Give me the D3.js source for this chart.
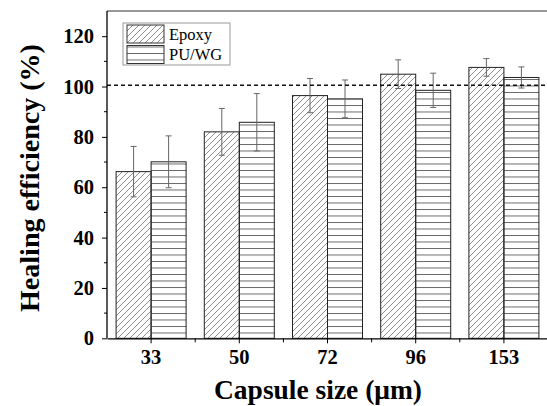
<!DOCTYPE html>
<html>
<head>
<meta charset="utf-8">
<script src="https://cdn.jsdelivr.net/npm/d3@7"></script>
<style>
  body { margin: 0; background: #fff; }
  svg { display: block; }
</style>
</head>
<body>
<svg id="chart"></svg>
<script>
// values
const sizes = ['33', '50', '72', '96', '153'];
const seriesNames = ['Epoxy', 'PU/WG'];
const epoxy = [66.2, 82.0, 96.4, 104.9, 107.6];
const epoxyErr = [10.0, 9.3, 6.8, 5.7, 3.5];
const puwg = [70.1, 85.8, 95.1, 98.5, 103.6];
const puwgErr = [10.3, 11.4, 7.5, 6.8, 4.2];
const yTicks = [0, 20, 40, 60, 80, 100, 120];
const yMinor = [10, 30, 50, 70, 90, 110];
const refLine = 100.5;

const W = 547, H = 406;
const plotLeft = 107, plotTop = 11, plotBottom = 338.3, plotRight = 548;
const serif = '"Liberation Serif", "Times New Roman", serif';

const svg = d3.select('#chart')
              .attr('width', W)
              .attr('height', H);

// hatch patterns
const defs = svg.append('defs');
const diag = defs.append('pattern')
                 .attr('id', 'diag')
                 .attr('patternUnits', 'userSpaceOnUse')
                 .attr('width', 6)
                 .attr('height', 6);
diag.append('path')
    .attr('d', 'M0,6 L6,0 M-1,1 L1,-1 M5,7 L7,5')
    .attr('stroke', '#6a6a6a')
    .attr('stroke-width', 0.75);
const horiz = defs.append('pattern')
                  .attr('id', 'horiz')
                  .attr('patternUnits', 'userSpaceOnUse')
                  .attr('width', 10)
                  .attr('height', 6.5)
                  .attr('y', 1);
horiz.append('line')
     .attr('x1', 0).attr('x2', 10)
     .attr('y1', 0.5).attr('y2', 0.5)
     .attr('stroke', '#555')
     .attr('stroke-width', 0.9);
const fills = { 'Epoxy': 'url(#diag)', 'PU/WG': 'url(#horiz)' };

const x0 = d3.scaleBand()
             .domain(sizes)
             .range([plotLeft, plotRight])
             .padding(0);
const x1 = d3.scaleBand()
             .domain(seriesNames)
             .range([0, x0.bandwidth()])
             .paddingInner(0)
             .paddingOuter(0.26);
const y = d3.scaleLinear()
            .domain([0, 130])
            .range([plotBottom, plotTop]);

const rows = [];
sizes.forEach((s, i) => {
  rows.push({ size: s, name: 'Epoxy', v: epoxy[i], e: epoxyErr[i] });
  rows.push({ size: s, name: 'PU/WG', v: puwg[i], e: puwgErr[i] });
});

// bars
svg.append('g')
   .selectAll('rect')
   .data(rows)
   .join('rect')
   .attr('x', d => x0(d.size) + x1(d.name))
   .attr('y', d => y(d.v))
   .attr('width', x1.bandwidth())
   .attr('height', d => y(0) - y(d.v))
   .attr('fill', d => fills[d.name])
   .attr('stroke', '#222')
   .attr('stroke-width', 1);

// error bars
const eb = svg.append('g')
              .attr('stroke', '#666')
              .attr('stroke-width', 1)
              .selectAll('g')
              .data(rows)
              .join('g')
              .attr('transform', d => `translate(${x0(d.size) + x1(d.name) + x1.bandwidth() / 2},0)`);
eb.append('line')
  .attr('y1', d => y(d.v + d.e))
  .attr('y2', d => y(d.v - d.e));
eb.append('line')
  .attr('x1', -3).attr('x2', 3)
  .attr('y1', d => y(d.v + d.e)).attr('y2', d => y(d.v + d.e));
eb.append('line')
  .attr('x1', -3).attr('x2', 3)
  .attr('y1', d => y(d.v - d.e)).attr('y2', d => y(d.v - d.e));

// dashed 100% line
svg.append('line')
   .attr('x1', plotLeft).attr('x2', W)
   .attr('y1', y(refLine)).attr('y2', y(refLine))
   .attr('stroke', '#111')
   .attr('stroke-width', 1.6)
   .style('stroke-dasharray', ('4, 3'));

// frame top
svg.append('line')
   .attr('x1', plotLeft).attr('x2', plotRight)
   .attr('y1', plotTop).attr('y2', plotTop)
   .attr('stroke', '#333')
   .attr('stroke-width', 1.2);

// y axis
const yAxis = svg.append('g')
                 .attr('transform', `translate(${plotLeft},0)`)
                 .call(d3.axisLeft(y).tickValues(yTicks).tickSize(5).tickPadding(8).tickSizeOuter(0));
svg.append('g')
   .selectAll('line')
   .data(yMinor)
   .join('line')
   .attr('x1', plotLeft - 3).attr('x2', plotLeft)
   .attr('y1', d => y(d)).attr('y2', d => y(d))
   .attr('stroke', '#000');
yAxis.select('.domain').attr('stroke-width', 1.3).attr('d', `M0,${plotBottom}V${plotTop}`);
yAxis.selectAll('.tick text')
     .style('font-family', serif)
     .style('font-size', '20.5px')
     .style('font-weight', 'bold')
     .attr('fill', '#000');

// x axis
const xAxis = svg.append('g')
                 .attr('transform', `translate(0,${plotBottom})`)
                 .call(d3.axisBottom(x0).tickSize(5).tickPadding(6).tickSizeOuter(0));
xAxis.select('.domain').attr('stroke-width', 1.3);
xAxis.selectAll('.tick text')
     .style('font-family', serif)
     .style('font-size', '20.5px')
     .style('font-weight', 'bold')
     .attr('fill', '#000');
svg.append('g')
   .selectAll('line')
   .data(sizes.slice(1))
   .join('line')
   .attr('x1', d => x0(d)).attr('x2', d => x0(d))
   .attr('y1', plotBottom).attr('y2', plotBottom + 4)
   .attr('stroke', '#000');

// titles, sized to the length they have in the picture
function fitText(sel, target) {
  const len = sel.node().getComputedTextLength();
  const fs = parseFloat(sel.style('font-size'));
  sel.style('font-size', (fs * target / len) + 'px');
}
const yTitle = svg.append('text')
   .attr('transform', `translate(39,${178}) rotate(-90)`)
   .attr('text-anchor', 'middle')
   .style('font-family', serif)
   .style('font-size', '24px')
   .style('font-weight', 'bold')
   .text('Healing efficiency (%)');
fitText(yTitle, 268);
const xTitle = svg.append('text')
   .attr('x', 318)
   .attr('y', 399)
   .attr('text-anchor', 'middle')
   .style('font-family', serif)
   .style('font-size', '25px')
   .style('font-weight', 'bold')
   .text('Capsule size (\u03bcm)');
fitText(xTitle, 208);

// legend
const lg = svg.append('g').attr('transform', 'translate(123,23)');
lg.append('rect')
  .attr('width', 107).attr('height', 42)
  .attr('fill', '#fff')
  .attr('stroke', '#999')
  .attr('stroke-width', 1);
const item = lg.selectAll('g')
               .data(seriesNames)
               .join('g')
               .attr('transform', (d, i) => `translate(4,${2 + i * 20.5})`);
item.append('rect')
    .attr('width', 37).attr('height', 18)
    .attr('fill', d => fills[d])
    .attr('stroke', '#333')
    .attr('stroke-width', 1);
item.append('text')
    .attr('x', 42).attr('y', 14.5)
    .style('font-family', serif)
    .style('font-size', '16.5px')
    .text(d => d);
</script>
</body>
</html>
